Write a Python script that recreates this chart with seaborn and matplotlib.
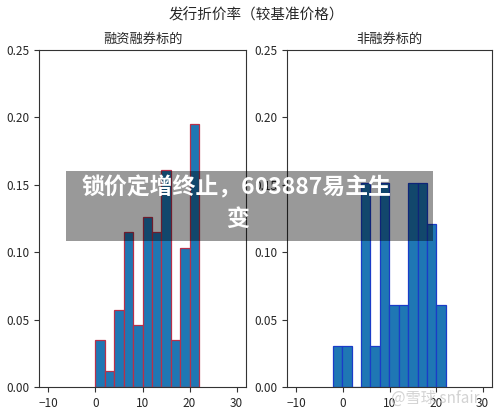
import numpy as np
import matplotlib
matplotlib.use("Agg")
import matplotlib.pyplot as plt
from matplotlib.patches import Rectangle
import seaborn as sns

# issue discount rate (vs benchmark price), counts per 2pt bin
margin_edges = [0, 2, 4, 6, 8, 10, 12, 14, 16, 18, 20, 22]
margin_counts = [3, 1, 5, 10, 4, 11, 10, 14, 3, 9, 17]

non_edges = [-2.2, -0.175, 1.85, 3.875, 5.9, 7.925, 9.95, 11.975, 14.0, 16.025, 18.05, 20.075, 22.1]
non_counts = [1, 1, 0, 5, 1, 5, 2, 2, 5, 5, 4, 2]

panel_titles = ["融资融券标的", "非融券标的"]
suptitle = "发行折价率（较基准价格）"
yticks = [0.00, 0.05, 0.10, 0.15, 0.20, 0.25]
xticks = [-10, 0, 10, 20, 30]

sns.set_style("ticks")
plt.rcParams["font.family"] = ["Noto Sans CJK SC", "DejaVu Sans"]

fig = plt.figure(figsize=(5, 4.13), dpi=100)
ax1 = fig.add_axes([0.078, 0.063, 0.414, 0.816])
ax2 = fig.add_axes([0.574, 0.063, 0.41, 0.816])

panels = [
    (ax1, margin_edges, margin_counts, "#b8304a", panel_titles[0]),
    (ax2, non_edges, non_counts, "#1a3cc8", panel_titles[1]),
]
for ax, edges, counts, ec, title in panels:
    centers = [(a + b) / 2 for a, b in zip(edges[:-1], edges[1:])]
    sns.histplot(x=centers, weights=counts, bins=edges, stat="proportion",
                 ax=ax, color="#1f77b4", edgecolor=ec, linewidth=0.9, alpha=1)
    ax.set_xlim(-12, 32)
    ax.set_ylim(0, 0.25)
    ax.set_xticks(xticks)
    ax.set_yticks(yticks)
    ax.set_yticklabels([f"{v:.2f}" for v in yticks])
    ax.tick_params(labelsize=8.5, length=3.5, width=0.8, color="#333333")
    ax.set_xlabel("")
    ax.set_ylabel("")
    ax.set_title(title, fontsize=9.5, pad=5)
    for s in ax.spines.values():
        s.set_color("#333333")
        s.set_linewidth(0.8)

fig.text(0.513, 0.963, suptitle, ha="center", va="center", fontsize=10.5)

# news banner overlay
fig.patches.append(Rectangle((0.132, 0.4165), 0.734, 0.1695, transform=fig.transFigure,
                             facecolor="black", alpha=0.4, edgecolor="none", zorder=5))
fig.text(0.473, 0.545, "锁价定增终止，603887易主生", ha="center", va="center",
         fontsize=16.5, fontweight="bold", color="white", zorder=6)
fig.text(0.476, 0.469, "变", ha="center", va="center",
         fontsize=16.5, fontweight="bold", color="white", zorder=6)

# site watermark
fig.text(0.87, 0.036, "@雪球 snfair", ha="center", va="center",
         fontsize=11, color="#c8c8c8", alpha=0.8, zorder=6)

fig.savefig("out.png", dpi=100)
